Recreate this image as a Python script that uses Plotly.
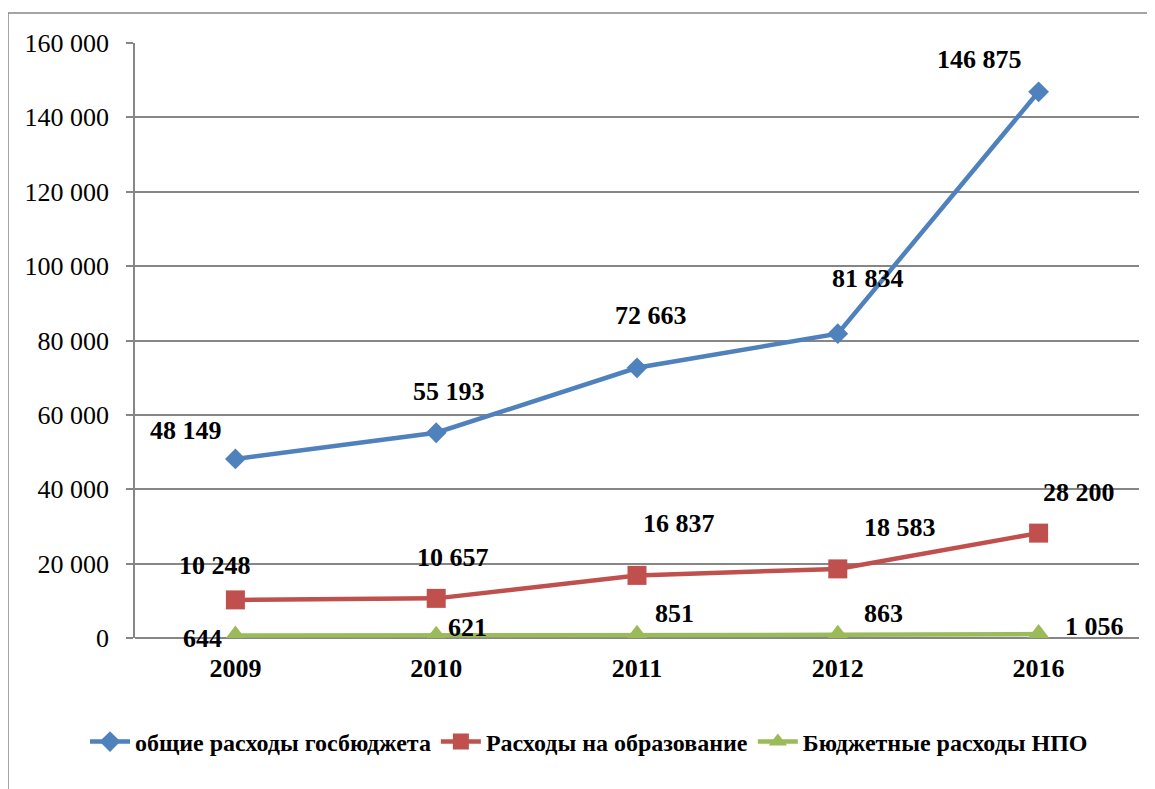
import plotly.graph_objects as go

years = ["2009", "2010", "2011", "2012", "2016"]
total_budget = [48149, 55193, 72663, 81834, 146875]
education = [10248, 10657, 16837, 18583, 28200]
npo = [644, 621, 851, 863, 1056]
series_names = ["общие расходы госбюджета", "Расходы на образование", "Бюджетные расходы НПО"]
y_ticks = [0, 20000, 40000, 60000, 80000, 100000, 120000, 140000, 160000]

colors = ["#4F81BD", "#C0504D", "#9BBB59"]
symbols = ["diamond", "square", "triangle-up"]
msizes = [16, 19, 20]

# label offsets (px) relative to each point: (xshift, yshift)
label_offsets = [
    [(-49, 28), (13, 41), (14, 52), (30, 55), (-59, 32)],
    [(-20, 34), (17, 41), (42, 52), (62, 41), (40, 41)],
    [(-33, -3), (31, 8), (37, 21), (46, 21), (56, 8)],
]

FONT = "Liberation Serif"

fig = go.Figure()
all_series = [total_budget, education, npo]
for vals, name, col, sym, ms in zip(all_series, series_names, colors, symbols, msizes):
    fig.add_trace(go.Scatter(
        x=years, y=vals, name=name, mode="lines+markers",
        line=dict(color=col, width=4.5),
        marker=dict(symbol=sym, size=ms, color=col),
    ))

def fmt(v):
    return f"{v:,}".replace(",", " ")

annotations = []
for vals, offs in zip(all_series, label_offsets):
    for i, (yr, v, (dx, dy)) in enumerate(zip(years, vals, offs)):
        annotations.append(dict(
            x=i, y=v, xref="x", yref="y", text=fmt(v), showarrow=False,
            xshift=dx, yshift=dy,
            font=dict(family=FONT, size=26, color="black", weight="bold"),
        ))

# page has an 8px body margin; compensate
OFF = 8
W, H = 1155 - OFF, 789 - OFF
L, R, T, B = 135 - OFF, 16, 43 - OFF, 151
pw, ph = W - L - R, H - T - B
def px(xp):
    return (xp - OFF - L) / pw
def py(yp):
    return (H - B - (yp - OFF)) / ph

shapes = [dict(type="rect", xref="paper", yref="paper",
               x0=px(8), x1=px(1175), y0=py(13), y1=py(820),
               line=dict(color="#868686", width=1.5), fillcolor="rgba(0,0,0,0)", layer="below")]

fig.update_layout(
    width=W, height=H,
    margin=dict(l=L, r=R, t=T, b=B),
    paper_bgcolor="white", plot_bgcolor="white",
    separators=". ",
    font=dict(family=FONT, color="black"),
    showlegend=True,
    legend=dict(orientation="h", xref="container", yref="container",
                x=(589 - OFF) / W, xanchor="center",
                y=(H - (742 - OFF)) / H, yanchor="middle",
                font=dict(family=FONT, size=24, color="black", weight="bold"),
                itemwidth=40, traceorder="normal", tracegroupgap=0),
    annotations=annotations,
    shapes=shapes,
    xaxis=dict(type="category", range=[-0.5, 4.5], showgrid=False, zeroline=False,
               showline=False, ticks="", ticklabelstandoff=12,
               tickfont=dict(family=FONT, size=26, color="black", weight="bold")),
    yaxis=dict(range=[0, 160000], tickvals=y_ticks, tickformat=",d",
               showgrid=True, gridcolor="#868686", gridwidth=1.5,
               zeroline=True, zerolinecolor="#868686", zerolinewidth=1.5,
               showline=True, linecolor="#868686", linewidth=1.5,
               ticks="outside", ticklen=7, tickcolor="#868686", tickwidth=1.5,
               ticklabelstandoff=12,
               tickfont=dict(family=FONT, size=26, color="black")),
)

fig.write_html("out.html")
